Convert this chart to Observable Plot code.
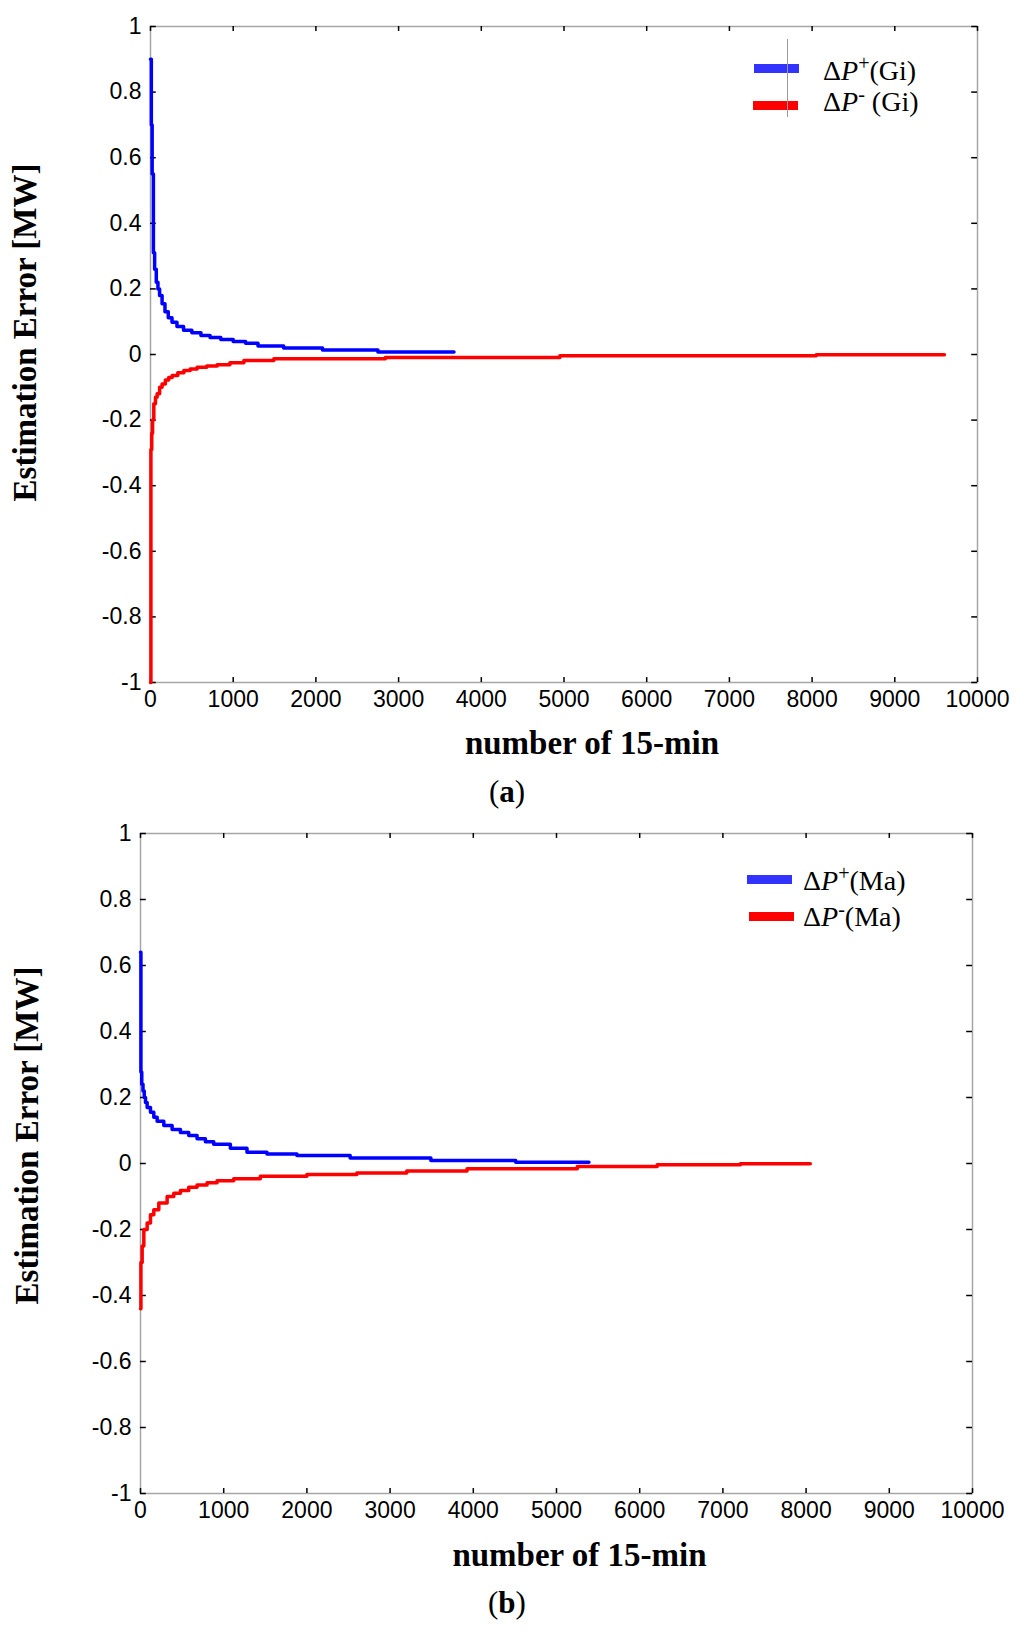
<!DOCTYPE html>
<html>
<head>
<meta charset="utf-8">
<script src="https://cdn.jsdelivr.net/npm/d3@7"></script>
<script src="https://cdn.jsdelivr.net/npm/@observablehq/plot@0.6"></script>
<style>
  body { margin: 0; background: #fff; }
  #page { position: relative; width: 1024px; height: 1633px; overflow: hidden; }
  #page svg { display: block; overflow: visible; }
  .key { position: absolute; font-family: "Liberation Serif", serif; font-size: 28px; line-height: 28px; white-space: nowrap; color: #000; }
  .key sup { font-size: 0.72em; vertical-align: baseline; position: relative; top: -0.5em; }
  .swatch { position: absolute; height: 9px; width: 45px; }
  .cap { position: absolute; font-family: "Liberation Serif", serif; font-size: 31px; line-height: 31px; white-space: nowrap; color: #000; }
</style>
</head>
<body>
<div id="page"></div>
<script>
/* global d3, Plot */

// tick positions shared by both panels
const xTicks = [0, 1000, 2000, 3000, 4000, 5000, 6000, 7000, 8000, 9000, 10000];
const yTicks = [-1, -0.8, -0.6, -0.4, -0.2, 0, 0.2, 0.4, 0.6, 0.8, 1];

// panel (a): Gi (step curves)
const blueAx = [0, 10, 20, 35, 50, 70, 90, 110, 140, 175, 215, 260, 320, 400, 500, 610, 720, 850, 1000, 1150, 1300, 1610, 2080, 2750, 3670];
const blueAy = [0.90, 0.70, 0.55, 0.31, 0.26, 0.22, 0.20, 0.18, 0.155, 0.13, 0.112, 0.098, 0.085, 0.074, 0.066, 0.058, 0.052, 0.046, 0.040, 0.034, 0.026, 0.020, 0.014, 0.008, 0.008];
const redAx = [0, 5, 15, 25, 40, 60, 80, 110, 140, 180, 220, 262, 330, 403, 480, 564, 680, 806, 960, 1129, 1491, 2840, 4950, 8050, 9600];
const redAy = [-1.0, -0.29, -0.24, -0.20, -0.15, -0.13, -0.12, -0.10, -0.09, -0.078, -0.07, -0.064, -0.056, -0.049, -0.044, -0.039, -0.035, -0.031, -0.025, -0.018, -0.013, -0.009, -0.004, -0.001, -0.001];

// panel (b): Ma
const blueBx = [0, 5, 15, 30, 45, 60, 80, 120, 160, 200, 280, 380, 480, 580, 680, 780, 880, 1080, 1280, 1520, 1880, 2520, 3490, 4510, 5390];
const blueBy = [0.64, 0.277, 0.24, 0.22, 0.20, 0.185, 0.17, 0.155, 0.14, 0.128, 0.115, 0.103, 0.094, 0.085, 0.075, 0.066, 0.058, 0.046, 0.034, 0.029, 0.024, 0.017, 0.009, 0.004, 0.004];
const redBx = [0, 5, 20, 40, 80, 120, 160, 220, 320, 400, 480, 580, 680, 800, 920, 1120, 1440, 2000, 2600, 3200, 3925, 5250, 6210, 7210, 8050];
const redBy = [-0.44, -0.30, -0.25, -0.20, -0.18, -0.155, -0.14, -0.12, -0.10, -0.09, -0.082, -0.072, -0.065, -0.058, -0.052, -0.046, -0.039, -0.033, -0.029, -0.023, -0.016, -0.009, -0.004, -0.001, -0.001];

const toRows = (xs, ys) => xs.map((x, i) => ({ x, y: ys[i] }));

const tickFont = { fontSize: 23, fontFamily: 'Liberation Sans, Arial, sans-serif' };
const titleFont = { fontSize: 33, fontWeight: 'bold', fontFamily: 'Liberation Serif, Times New Roman, serif' };

function panel (opts) {
  return Plot.plot({
    width: 1024,
    height: opts.height,
    marginTop: opts.top,
    marginBottom: opts.bottom,
    marginLeft: opts.left,
    marginRight: opts.right,
    style: { overflow: 'visible', background: 'transparent' },
    x: { domain: [0, 10000] },
    y: { domain: [-1, 1] },
    marks: [
      Plot.frame({ stroke: '#a6a6a6', strokeWidth: 1.5 }),
      // inward ticks on all four sides
      Plot.ruleX(xTicks, { x: d => d, y1: -1, y2: -0.985, stroke: '#000', strokeWidth: 1.5 }),
      Plot.ruleX(xTicks, { x: d => d, y1: 1, y2: 0.985, stroke: '#000', strokeWidth: 1.5 }),
      Plot.ruleY(yTicks, { y: d => d, x1: 0, x2: 70, stroke: '#000', strokeWidth: 1.5 }),
      Plot.ruleY(yTicks, { y: d => d, x1: 10000, x2: 9930, stroke: '#000', strokeWidth: 1.5 }),
      Plot.axisX(xTicks, { anchor: 'bottom', tickSize: 0, tickPadding: 8, label: null, tickFormat: d => String(d), ...tickFont }),
      Plot.axisY(yTicks, { anchor: 'left', tickSize: 0, tickPadding: 9, label: null, tickFormat: d => String(d), ...tickFont }),
      Plot.line(opts.blue, { x: 'x', y: 'y', curve: 'step-after', stroke: '#0000ff', strokeWidth: 3.5 }),
      Plot.line(opts.red, { x: 'x', y: 'y', curve: 'step-after', stroke: '#ff0000', strokeWidth: 3.5 }),
      Plot.text(['number of 15-min'], { frameAnchor: 'bottom', dx: opts.xTitleDx, dy: opts.xTitleDy, textAnchor: 'middle', lineAnchor: 'bottom', ...titleFont }),
      Plot.text(['Estimation Error [MW]'], { frameAnchor: 'left', rotate: -90, dx: opts.yTitleDx, dy: opts.yTitleDy, textAnchor: 'middle', lineAnchor: 'bottom', ...titleFont })
    ]
  });
}

const page = document.getElementById('page');

page.append(panel({
  height: 815, top: 26, bottom: 133, left: 150, right: 47,
  blue: toRows(blueAx, blueAy), red: toRows(redAx, redAy),
  xTitleDx: 28, xTitleDy: 71, yTitleDx: -115, yTitleDy: -22
}));

page.append(panel({
  height: 818, top: 18, bottom: 140, left: 140, right: 52,
  blue: toRows(blueBx, blueBy), red: toRows(redBx, redBy),
  xTitleDx: 23, xTitleDy: 72, yTitleDx: -103, yTitleDy: -28
}));

// legends and sub-captions, laid over the panels
function addDiv (cls, left, top, html, color) {
  const el = document.createElement('div');
  el.className = cls;
  el.style.left = left + 'px';
  el.style.top = top + 'px';
  if (color) el.style.background = color;
  if (html) el.innerHTML = html;
  page.append(el);
}

function legendEntry (left, top, color, swLeft, swTop, html) {
  addDiv('swatch', swLeft, swTop, null, color);
  addDiv('key', left, top, html);
}

legendEntry(823, 57, '#3333ff', 754, 64, 'Δ<i>P</i><sup>+</sup>(Gi)');
legendEntry(823, 88, '#ff0000', 753, 101, 'Δ<i>P</i><sup>-</sup> (Gi)');
// stray grey rule that sits across the legend of panel (a)
const stray = document.createElement('div');
stray.style.cssText = 'position:absolute;left:787px;top:39px;width:1px;height:78px;background:#999;';
page.append(stray);

legendEntry(803, 867, '#3333ff', 747, 875, 'Δ<i>P</i><sup>+</sup>(Ma)');
legendEntry(803, 903, '#ff0000', 749, 912, 'Δ<i>P</i><sup>-</sup>(Ma)');

addDiv('cap', 489, 776, '(<b>a</b>)');
addDiv('cap', 488, 1587, '(<b>b</b>)');
</script>
</body>
</html>
